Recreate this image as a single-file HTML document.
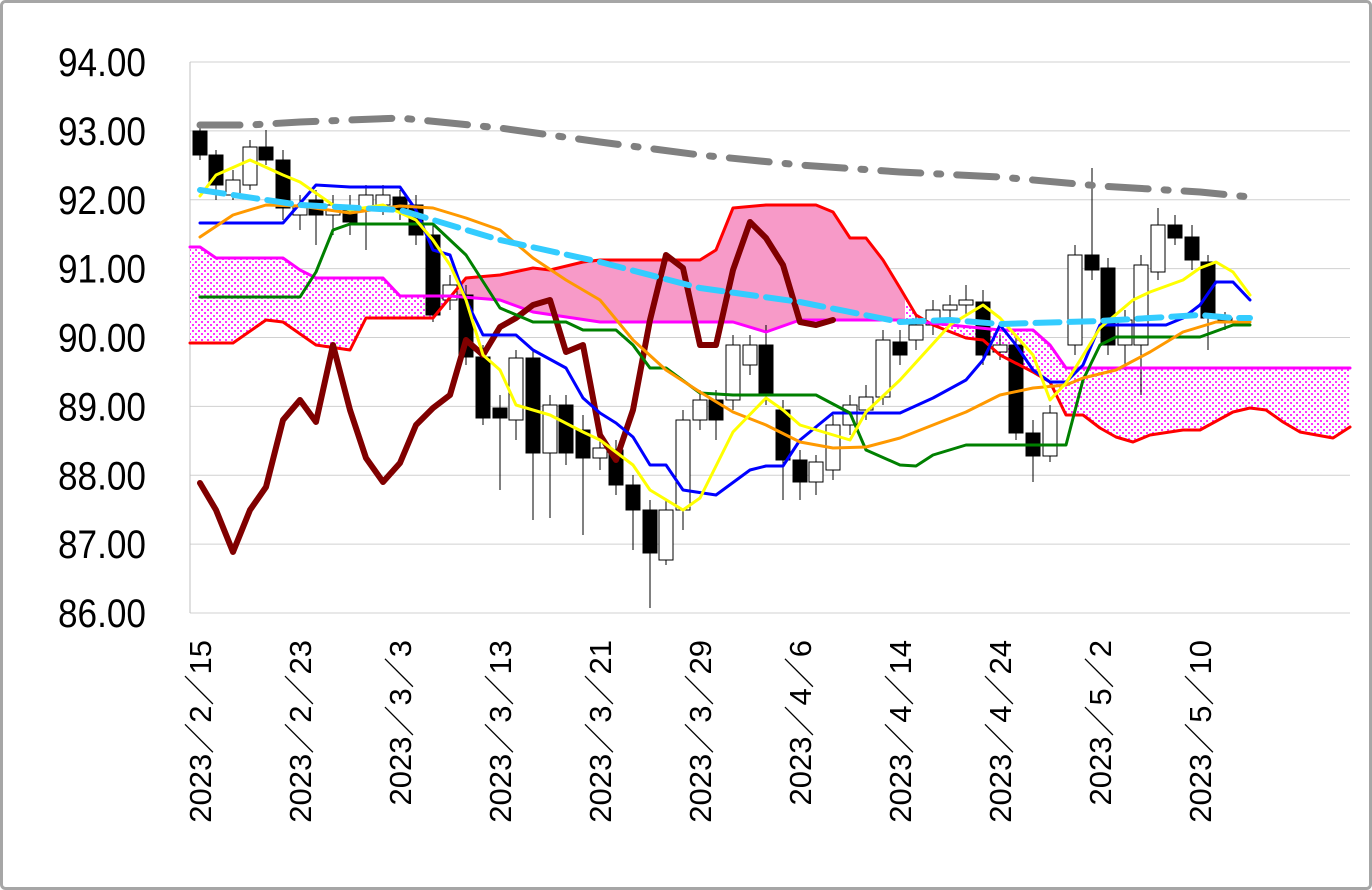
<!DOCTYPE html>
<html><head><meta charset="utf-8"><style>
html,body{margin:0;padding:0;background:#fff;}
svg{display:block;}
</style></head><body>
<svg id="s" width="1372" height="890" xmlns="http://www.w3.org/2000/svg">
<defs>
<pattern id="dot" width="6" height="6" patternUnits="userSpaceOnUse">
<rect width="6" height="6" fill="#fff"/>
<rect x="0" y="0" width="2" height="2" fill="#ff33ff"/>
<rect x="3" y="3" width="2" height="2" fill="#ff33ff"/>
</pattern>
<clipPath id="cPink"><rect x="455" y="0" width="450" height="890"/></clipPath>
<clipPath id="cDot1"><rect x="190" y="0" width="265" height="890"/></clipPath>
<clipPath id="cDot2"><rect x="905" y="0" width="445" height="890"/></clipPath>
</defs>
<rect x="1.5" y="1.5" width="1369" height="887" rx="4" fill="#fff" stroke="#a6a6a6" stroke-width="3"/>
<g id="grid" stroke="#d0d0d0" stroke-width="1"></g>
<g id="ylab" font-family="Liberation Sans, sans-serif" font-size="40" fill="#000" text-anchor="end"></g>
<g id="xlab" font-family="Liberation Sans, 'Noto Sans CJK JP', sans-serif" font-size="31" fill="#000"></g>
<g id="cloud"></g>
<g id="cand"></g>
<g id="lines" fill="none" stroke-linejoin="round" stroke-linecap="round"></g>
</svg>
<script>
const NS="http://www.w3.org/2000/svg";
function el(p,t,a,txt){const e=document.createElementNS(NS,t);for(const k in a)e.setAttribute(k,a[k]);if(txt)e.textContent=txt;document.getElementById(p).appendChild(e);return e;}
const yv=v=>613-(v-86)*68.875;
for(let v=86;v<=94;v++){el('grid','line',{x1:190,x2:1350,y1:yv(v),y2:yv(v)});el('ylab','text',{transform:`translate(146,${yv(v)+14}) scale(0.88,1)`,x:0,y:0},v.toFixed(2));}
el('grid','line',{x1:190,x2:190,y1:62,y2:613,stroke:'#c0c0c0'});
const xl=['2023／2／15','2023／2／23','2023／3／3','2023／3／13','2023／3／21','2023／3／29','2023／4／6','2023／4／14','2023／4／24','2023／5／2','2023／5／10'];
xl.forEach((t,i)=>{const x=200+i*100+11;el('xlab','text',{transform:`translate(${x},640) rotate(-90)`,'text-anchor':'end'},t);});
function P(s){return s.trim().split(/\s+/).map(p=>p.split(',').map(Number));}
const red=P(`190,343 233,343 266,320 283,322 316,345 350,350 366,318 433,318 466,278 500,275 533,268 550,270 583,262 600,260 700,260 716,250 733,208 766,205 816,205 833,212 850,238 866,238 883,260 900,288 916,315 933,325 966,338 983,340 1000,355 1033,372 1050,382 1066,415 1083,415 1100,428 1116,437 1133,442 1150,435 1183,430 1200,430 1233,412 1250,408 1266,410 1283,422 1300,432 1333,438 1350,427`);
const mag=P(`190,247 200,247 216,258 283,258 300,270 316,278 383,278 400,296 450,296 500,300 533,312 600,322 733,322 766,332 800,320 900,320 1000,330 1033,330 1050,345 1066,368 1350,368`);
const poly=red.concat(mag.slice().reverse()).map(p=>p.join(',')).join(' ');
el('cloud','polygon',{points:poly,fill:'#f79ac8','clip-path':'url(#cPink)'});
el('cloud','polygon',{points:poly,fill:'url(#dot)','clip-path':'url(#cDot1)'});
el('cloud','polygon',{points:poly,fill:'url(#dot)','clip-path':'url(#cDot2)'});
const C=[[200,131,155,1,125,160],[216,155,185,1,150,200],[233,180,195,0,170,200],[250,147,185,0,140,190],[266,147,160,1,130,165],[283,160,208,1,150,220],[300,205,215,0,195,230],[316,200,215,1,190,245],[333,205,215,0,195,235],[350,210,222,1,195,235],[366,195,210,0,185,250],[383,195,205,0,185,215],[400,197,210,1,190,220],[416,205,235,1,195,245],[433,235,315,1,225,322],[450,285,300,0,275,310],[466,295,357,1,285,365],[483,357,418,1,345,425],[500,408,418,1,395,490],[516,358,420,0,350,440],[533,358,453,1,350,520],[550,405,453,0,395,518],[566,405,453,1,395,465],[583,430,458,1,415,535],[600,448,458,0,440,470],[616,450,485,1,440,495],[633,485,510,1,475,550],[650,510,553,1,500,608],[666,510,560,0,500,565],[683,420,510,0,410,530],[700,400,420,0,390,430],[716,400,420,1,390,440],[733,345,400,0,335,410],[750,345,365,0,335,375],[766,345,395,1,325,405],[783,410,460,1,400,500],[800,460,482,1,450,500],[816,462,482,0,455,495],[833,425,470,0,415,480],[850,405,425,0,395,435],[866,397,410,0,385,420],[883,340,397,0,330,405],[900,342,355,1,330,365],[916,325,340,0,315,350],[933,310,325,0,300,335],[950,305,310,0,295,320],[966,300,305,0,285,315],[983,302,355,1,290,365],[1000,345,352,0,335,360],[1016,345,433,1,335,440],[1033,433,456,1,420,482],[1050,413,456,0,405,462],[1075,255,345,0,245,355],[1092,255,270,1,168,280],[1108,268,345,1,258,355],[1125,320,345,0,310,370],[1141,265,345,0,255,395],[1158,225,272,0,208,280],[1175,225,238,1,215,245],[1192,237,260,1,225,270],[1208,262,318,1,255,350],[1225,318,321,1,312,330]];
C.forEach(c=>{const[x,t,b,k,wt,wb]=c;el('cand','line',{x1:x,x2:x,y1:wt,y2:wb,stroke:'#000','stroke-width':1});el('cand','rect',{x:x-7,y:t,width:14,height:Math.max(b-t,2),fill:k?'#000':'#fff',stroke:'#000','stroke-width':1});});
function L(pts,col,w,dash){const a={points:pts,stroke:col,'stroke-width':w};if(dash)a['stroke-dasharray']=dash;el('lines','polyline',a);}
L(red.map(p=>p.join(',')).join(' '),'#ff0000',3);
L(mag.map(p=>p.join(',')).join(' '),'#ff00ff',3);
L('200,125 250,125 300,122 400,118 500,128 600,142 700,155 800,165 900,172 1000,177 1100,186 1200,192 1250,197','#808080',7,'40,16,4,16');
L('200,483 216,510 233,552 250,510 266,487 283,420 300,400 316,422 333,345 350,410 366,458 383,482 400,463 416,425 433,408 450,395 466,340 483,355 500,327 516,318 533,305 550,300 566,352 583,345 600,435 616,460 633,410 650,320 666,255 683,268 700,345 716,345 733,270 750,222 766,238 783,265 800,322 816,325 833,320','#800000',6);
L('200,223 283,223 316,185 350,187 400,187 416,210 433,250 450,255 466,300 483,335 516,335 533,350 566,368 583,398 600,413 616,423 633,437 650,465 666,465 683,490 716,495 750,470 766,466 783,466 800,440 833,413 900,413 933,398 966,380 983,360 1000,325 1016,345 1033,370 1050,382 1066,382 1083,365 1100,325 1166,325 1183,318 1200,305 1216,282 1233,282 1250,300','#0000ff',3);
L('200,297 300,297 316,272 333,230 350,224 433,224 466,255 500,308 533,322 566,322 583,330 616,330 633,345 650,368 666,368 700,393 733,395 816,395 850,413 866,450 900,465 916,466 933,455 966,445 1066,445 1083,380 1100,345 1116,337 1200,337 1233,325 1250,325','#008000',3);
L('200,237 233,215 266,205 300,206 350,213 400,206 433,208 466,218 500,230 533,258 566,280 600,300 633,340 666,370 700,392 733,412 766,425 800,442 833,448 866,447 900,438 933,425 966,412 1000,395 1033,388 1066,385 1083,378 1116,370 1150,352 1183,332 1216,322 1250,322','#ff9900',3);
L('200,196 216,175 250,160 283,175 300,182 333,205 350,210 383,205 416,220 433,240 450,265 466,300 483,355 500,370 516,405 550,415 583,432 600,440 633,465 650,490 683,510 700,498 733,432 766,398 783,410 800,425 850,440 866,412 900,380 950,325 983,305 1000,318 1033,355 1050,400 1066,383 1100,328 1133,300 1150,292 1183,280 1200,268 1216,262 1233,272 1250,295','#ffff00',3);
L('200,190 300,205 400,210 500,240 600,262 700,288 800,302 900,322 950,320 1000,324 1100,321 1200,315 1233,318 1250,318','#33ccff',6,'24,10');
</script>
</body></html>
